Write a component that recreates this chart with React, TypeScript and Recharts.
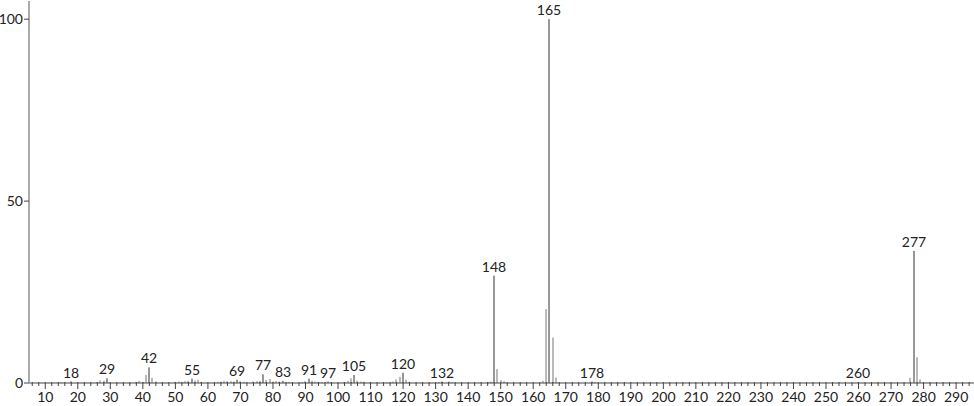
import { BarChart, Bar, XAxis, YAxis } from 'recharts';

// m/z values and relative intensities (% of base peak 165)
const mz = [
  15, 18, 26, 27, 28, 29, 30, 38, 39, 40, 41, 42, 43, 44,
  50, 51, 52, 53, 54, 55, 56, 57, 58,
  63, 64, 65, 66, 67, 68, 69, 70, 71,
  74, 75, 76, 77, 78, 79, 80, 81, 82, 83, 84, 85,
  89, 90, 91, 92, 93, 94, 95, 97, 98,
  102, 103, 104, 105, 106, 107, 108, 110, 115,
  117, 118, 119, 120, 121, 122, 131, 132, 134, 135,
  146, 147, 148, 149, 150, 151, 163, 164, 165, 166, 167,
  178, 179, 260, 276, 277, 278, 279,
];
const intensity = [
  0.2, 0.4, 0.2, 0.7, 0.6, 1.3, 0.2, 0.3, 0.6, 0.3, 2.2, 4.3, 1.4, 0.4,
  0.3, 0.4, 0.3, 0.5, 0.6, 1.2, 0.7, 0.9, 0.3,
  0.3, 0.4, 0.6, 0.5, 0.5, 0.4, 0.9, 0.5, 0.3,
  0.4, 0.5, 0.6, 2.4, 0.8, 1.1, 0.4, 0.5, 0.4, 0.6, 0.3, 0.3,
  0.3, 0.5, 1.2, 0.6, 0.4, 0.3, 0.3, 0.4, 0.2,
  0.3, 0.6, 1.3, 2.2, 0.6, 0.4, 0.3, 0.2, 0.2,
  0.4, 1.0, 1.7, 2.8, 0.9, 0.3, 0.3, 0.4, 0.4, 0.2,
  0.3, 0.4, 29.5, 3.8, 0.8, 0.5, 0.6, 20.3, 100, 12.5, 1.5,
  0.4, 0.3, 0.2, 1.4, 36.3, 7.1, 1.0,
];
const labeledPeaks = [18, 29, 42, 55, 69, 77, 83, 91, 97, 105, 120, 132, 148, 165, 178, 260, 277];

const xTicks: number[] = [];
for (let t = 6; t <= 294; t += 2) xTicks.push(t);
const yTicks = [0, 50, 100];

const data = mz.map((m, i) => ({ mz: m, value: intensity[i] }));

const FONT = 'Lato, "DejaVu Sans", sans-serif';

// eslint-disable-next-line @typescript-eslint/no-explicit-any
function PeakShape(props: any) {
  const { x, y, width, height, payload } = props;
  const cx = Math.round(x + width / 2);
  const labeled = labeledPeaks.includes(payload.mz);
  return (
    <g>
      <rect x={cx - 0.5} y={y} width={1} height={Math.max(height, 0.5)} fill={labeled ? '#333' : '#777'} />
      {labeled && (
        <text x={cx} y={y - 4} textAnchor="middle" fontSize={14} fontFamily={FONT} fill="#222">
          {payload.mz}
        </text>
      )}
    </g>
  );
}

// eslint-disable-next-line @typescript-eslint/no-explicit-any
function XTick(props: any) {
  const { x, y, payload } = props;
  const major = payload.value % 10 === 0;
  return (
    <g>
      <line x1={x} x2={x} y1={y - 1} y2={y + (major ? 6 : 3)} stroke="#444" />
      {major && (
        <text x={x} y={y + 19} textAnchor="middle" fontSize={14} fontFamily={FONT} fill="#222">
          {payload.value}
        </text>
      )}
    </g>
  );
}

export default function App() {
  return (
    <div style={{ position: 'absolute', left: 0, top: 0, background: '#fff' }}>
      <BarChart
        width={974}
        height={406}
        data={data}
        margin={{ top: 1, right: 0, left: 0, bottom: 0 }}
        barSize={1}
      >
        <XAxis
          dataKey="mz"
          type="number"
          domain={[5, 295.5]}
          ticks={xTicks}
          interval={0}
          height={23}
          tickSize={0}
          tickMargin={0}
          tickLine={false}
          axisLine={{ stroke: '#444' }}
          tick={<XTick />}
        />
        <YAxis
          domain={[0, 105]}
          ticks={yTicks}
          width={29}
          tickSize={5}
          tickMargin={1}
          axisLine={{ stroke: '#aaa', strokeWidth: 2 }}
          tickLine={{ stroke: '#444' }}
          tick={{ fontSize: 14, fontFamily: FONT, fill: '#222' }}
        />
        <Bar dataKey="value" isAnimationActive={false} shape={<PeakShape />} />
      </BarChart>
    </div>
  );
}
